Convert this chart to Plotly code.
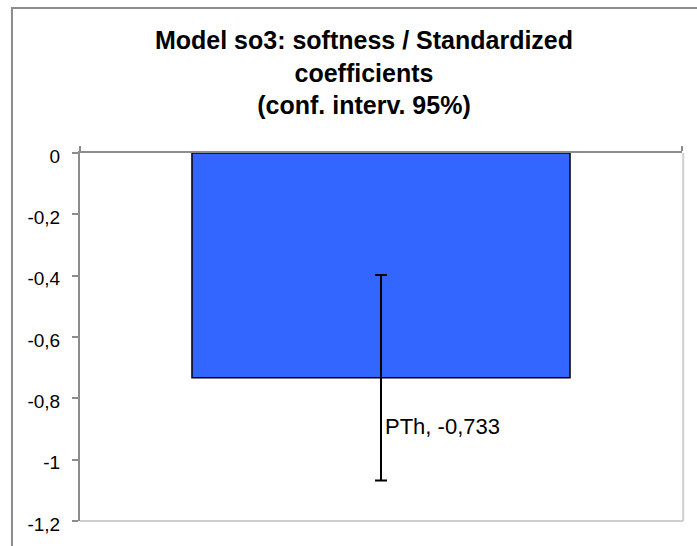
import plotly.graph_objects as go

# ---- data ----
categories = ["PTh"]
values = [-0.733]
ci_plus = [0.335]
ci_minus = [0.335]
tick_vals = [0, -0.2, -0.4, -0.6, -0.8, -1.0, -1.2]
tick_text = ["0", "-0,2", "-0,4", "-0,6", "-0,8", "-1", "-1,2"]
title_lines = ["Model so3: softness / Standardized", "coefficients", "(conf. interv. 95%)"]

FONT = "Liberation Sans, Arial, sans-serif"

def fmt(v):
    return f"{v:.3f}".replace(".", ",")

fig = go.Figure()
fig.add_trace(go.Bar(
    x=categories, y=values, width=0.628,
    marker=dict(color="#3366FF", line=dict(color="#000000", width=1.5)),
    error_y=dict(type="data", symmetric=False, array=ci_plus, arrayminus=ci_minus,
                 color="#000000", thickness=2, width=6),
    showlegend=False, hoverinfo="skip",
))

for c, v in zip(categories, values):
    fig.add_annotation(x=c, y=-0.893, xref="x", yref="y", text=f"{c}, {fmt(v)}",
                       showarrow=False, xanchor="left", yanchor="middle", xshift=2,
                       font=dict(family=FONT, size=22, color="#000000"))

# outer frame and plot-area border
fig.add_shape(type="rect", xref="paper", yref="paper", x0=-0.113, x1=1.2, y0=-0.3, y1=1.394,
              line=dict(color="#8c8c8c", width=2), layer="below")
fig.add_shape(type="line", xref="paper", yref="paper", x0=0, x1=1.002, y0=0, y1=0,
              line=dict(color="#cfcfcf", width=2))
fig.add_shape(type="line", xref="paper", yref="paper", x0=1.002, x1=1.002, y0=0, y1=1,
              line=dict(color="#cfcfcf", width=2))

fig.update_layout(
    width=697, height=546,
    margin=dict(l=80, r=15, t=153, b=25),
    paper_bgcolor="white", plot_bgcolor="white",
    font=dict(family=FONT, color="#000000"),
    title=dict(text="<br>".join(title_lines), x=364/697, xanchor="center",
               y=1 - 49/546, yanchor="top", yref="container",
               font=dict(family=FONT, size=25, color="#000000", weight="bold")),
    xaxis=dict(side="top", showticklabels=False, showgrid=False, zeroline=False,
               showline=True, linecolor="#8c8c8c", linewidth=2,
               ticks="outside", ticklen=5, tickcolor="#8c8c8c", tickwidth=1.5,
               tickson="boundaries", range=[-0.5, 0.5]),
    yaxis=dict(range=[-1.2, 0], tickvals=tick_vals, ticktext=tick_text,
               showgrid=False, zeroline=False, showline=True, linecolor="#8c8c8c", linewidth=2,
               ticks="outside", ticklen=6, tickcolor="#8c8c8c", tickwidth=1.5,
               ticklabelstandoff=8, ticklabelshift=3,
               tickfont=dict(family=FONT, size=19, color="#000000")),
)

fig.write_html("out.html", config={"displayModeBar": False},
               post_script="document.body.style.margin='0';document.body.style.overflow='hidden';")
